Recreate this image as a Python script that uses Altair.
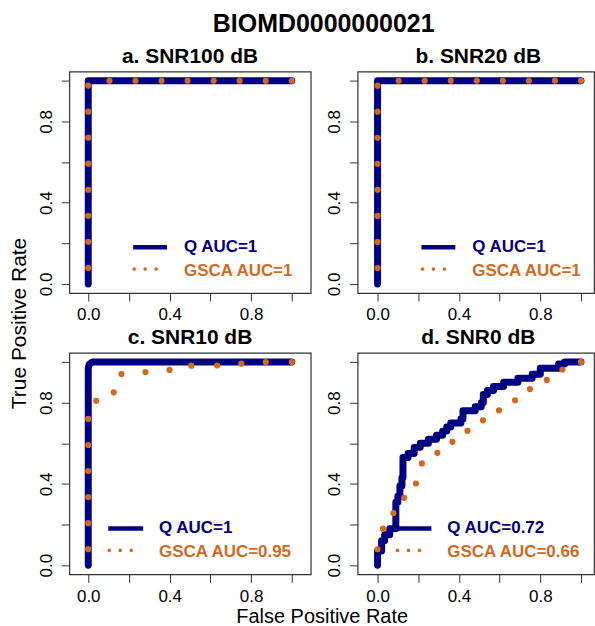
import altair as alt
import pandas as pd

NAVY = "#000080"
ORANGE = "#D2691E"
FONT = "Liberation Sans"

main_title = "BIOMD0000000021"
panel_titles = ["a. SNR100 dB", "b. SNR20 dB", "c. SNR10 dB", "d. SNR0 dB"]
q_labels = ["Q AUC=1", "Q AUC=1", "Q AUC=1", "Q AUC=0.72"]
g_labels = ["GSCA AUC=1", "GSCA AUC=1", "GSCA AUC=0.95", "GSCA AUC=0.66"]
x_title = "False Positive Rate"
y_title = "True Positive Rate"
tick_values = [0.0, 0.2, 0.4, 0.6, 0.8, 1.0]
tick_labels = ["0.0", "0.4", "0.8"]

# ---- Q curves (solid) ----
q_a_x = [0.0, 0.0, 1.0]
q_a_y = [0.0, 1.0, 1.0]
q_b_x = [0.0, 0.0, 1.0]
q_b_y = [0.0, 1.0, 1.0]
q_c_x = [0.0, 0.0, 0.005, 0.02, 1.0]
q_c_y = [0.0, 0.97, 0.99, 1.0, 1.0]
q_d_x = [0.00, 0.00, 0.02, 0.02, 0.035, 0.035, 0.06, 0.06, 0.09, 0.09, 0.10, 0.10,
         0.11, 0.11, 0.12, 0.12, 0.125, 0.125, 0.15, 0.15, 0.18, 0.18, 0.21, 0.21,
         0.25, 0.25, 0.29, 0.29, 0.32, 0.32, 0.34, 0.34, 0.36, 0.36, 0.41, 0.41,
         0.42, 0.42, 0.48, 0.48, 0.51, 0.51, 0.52, 0.52, 0.54, 0.54, 0.57, 0.57,
         0.62, 0.62, 0.69, 0.69, 0.76, 0.76, 0.80, 0.80, 0.89, 0.89, 0.92, 0.92, 1.00]
q_d_y = [0.00, 0.07, 0.07, 0.12, 0.12, 0.15, 0.15, 0.18, 0.18, 0.31, 0.31, 0.34,
         0.34, 0.39, 0.39, 0.43, 0.43, 0.53, 0.53, 0.55, 0.55, 0.58, 0.58, 0.60,
         0.60, 0.62, 0.62, 0.64, 0.64, 0.66, 0.66, 0.68, 0.68, 0.70, 0.70, 0.72,
         0.72, 0.76, 0.76, 0.78, 0.78, 0.80, 0.80, 0.84, 0.84, 0.86, 0.86, 0.88,
         0.88, 0.90, 0.90, 0.92, 0.92, 0.94, 0.94, 0.97, 0.97, 0.99, 0.99, 1.00, 1.00]

# ---- GSCA curves (dotted) ----
g_a_x = [0.0, 0.0, 1.0]
g_a_y = [0.0, 1.0, 1.0]
g_b_x = [0.0, 0.0, 1.0]
g_b_y = [0.0, 1.0, 1.0]
g_c_x = [0.0, 0.0, 0.041, 0.126, 0.163, 0.281, 0.400, 0.506, 0.633, 0.752, 0.871, 1.0]
g_c_y = [0.0, 0.719, 0.809, 0.851, 0.941, 0.951, 0.961, 0.982, 0.982, 0.992, 1.0, 1.0]
g_d_x = [0.0, 0.0, 0.029, 0.078, 0.131, 0.189, 0.218, 0.294, 0.368, 0.442, 0.519,
         0.597, 0.676, 0.749, 0.832, 0.910, 1.0]
g_d_y = [0.0, 0.080, 0.180, 0.256, 0.330, 0.402, 0.500, 0.552, 0.606, 0.660, 0.713,
         0.761, 0.811, 0.866, 0.912, 0.963, 1.0]


def staircase(xs, ys):
    sx, sy = [xs[0]], [ys[0]]
    for i in range(1, len(xs)):
        if xs[i] != sx[-1] and ys[i] != sy[-1]:
            sx.append(sx[-1])
            sy.append(ys[i])
        sx.append(xs[i])
        sy.append(ys[i])
    return sx, sy


label_expr = "(" + " || ".join(
    f"format(datum.value, '.1f') == '{t}'" for t in tick_labels
) + ") ? format(datum.value, '.1f') : ''"


def text_layer(label, color, size, x, y, align="center", weight="bold"):
    df = pd.DataFrame({"label": [label]})
    return alt.Chart(df).mark_text(
        color=color, font=FONT, fontSize=size, fontWeight=weight,
        align=align, baseline="middle"
    ).encode(x=alt.value(x), y=alt.value(y), text="label:N")


def panel(k, qx, qy, gx, gy, right, show_y_title, show_x_title, show_main):
    w = 237 if right else 242
    xdom = [-0.098, 1.064] if right else [-0.093, 1.093]
    ydom = [-0.045, 1.045]
    q = pd.DataFrame({"fpr": qx, "tpr": qy, "o": list(range(len(qx)))})
    sx, sy = staircase(gx, gy)
    g = pd.DataFrame({"fpr": sx, "tpr": sy, "o": list(range(len(sx)))[::-1]})

    xax = dict(values=tick_values, labelExpr=label_expr)
    yax = dict(values=tick_values, labelExpr=label_expr, labelAngle=-90,
               labelAlign="center", labelBaseline="bottom")
    if show_x_title:
        xax.update(titleX=253, titleY=42, titleAlign="center",
                   titleBaseline="middle", titleAngle=0, titleFontSize=20)
    if show_y_title:
        yax.update(titleX=-50, titleY=252, titleAlign="center",
                   titleBaseline="middle", titleAngle=-90)
    xenc = alt.X("fpr:Q", scale=alt.Scale(domain=xdom, nice=False, zero=False),
                 axis=alt.Axis(**xax), title=x_title if show_x_title else None)
    yenc = alt.Y("tpr:Q", scale=alt.Scale(domain=ydom, nice=False, zero=False),
                 axis=alt.Axis(**yax), title=y_title if show_y_title else None)

    q_line = alt.Chart(q).mark_line(
        color=NAVY, strokeWidth=7, strokeCap="round", strokeJoin="round"
    ).encode(x=xenc, y=yenc, order="o:Q")
    g_line = alt.Chart(g).mark_line(
        color=ORANGE, strokeWidth=6.2, strokeCap="round", strokeDash=[0.01, 26.1]
    ).encode(x=xenc, y=yenc, order="o:Q")

    lx0, lx1, tx = (64, 98, 115) if k < 2 else (39, 74, 90)
    dx1 = lx0 + 31
    leg_g = pd.DataFrame({"label": [g_labels[k]]})
    q_rule = alt.Chart(leg_g).mark_rule(color=NAVY, strokeWidth=4.5).encode(
        x=alt.value(lx0), x2=alt.value(lx1), y=alt.value(176))
    g_rule = alt.Chart(leg_g).mark_rule(
        color=ORANGE, strokeWidth=3.6, strokeCap="round", strokeDash=[0.01, 11]
    ).encode(x=alt.value(lx0 + 1), x2=alt.value(dx1), y=alt.value(198))

    layers = [
        q_line, g_line, q_rule, g_rule,
        text_layer(q_labels[k], NAVY, 17, tx, 176, align="left"),
        text_layer(g_labels[k], ORANGE, 17, tx, 200, align="left"),
        text_layer(panel_titles[k], "black", 21, 121, -14.5),
    ]
    if show_main:
        layers.append(text_layer(main_title, "black", 25, 255, -48))

    return alt.layer(*layers).properties(width=w, height=222)


pa = panel(0, q_a_x, q_a_y, g_a_x, g_a_y, False, True, False, True)
pb = panel(1, q_b_x, q_b_y, g_b_x, g_b_y, True, False, False, False)
pc = panel(2, q_c_x, q_c_y, g_c_x, g_c_y, False, False, True, False)
pd_ = panel(3, q_d_x, q_d_y, g_d_x, g_d_y, True, False, False, False)

chart = alt.concat(
    pa, pb, pc, pd_, columns=2, spacing={"row": 60, "column": 47}, bounds="flush"
).properties(
    padding={"left": 7.5, "top": 10, "right": 0, "bottom": 0},
    background="white",
).configure_view(
    stroke="#333333", strokeWidth=1.2
).configure_axis(
    grid=False, domain=False, tickColor="#333333", tickWidth=1, tickSize=8,
    labelFont=FONT, labelFontSize=17, labelColor="black", labelPadding=6,
    labelOverlap=False, labelFlush=False,
    titleFont=FONT, titleFontSize=21, titleFontWeight="normal", titleColor="black",
)

chart.save("out.html", embed_options={"renderer": "svg", "actions": False})
